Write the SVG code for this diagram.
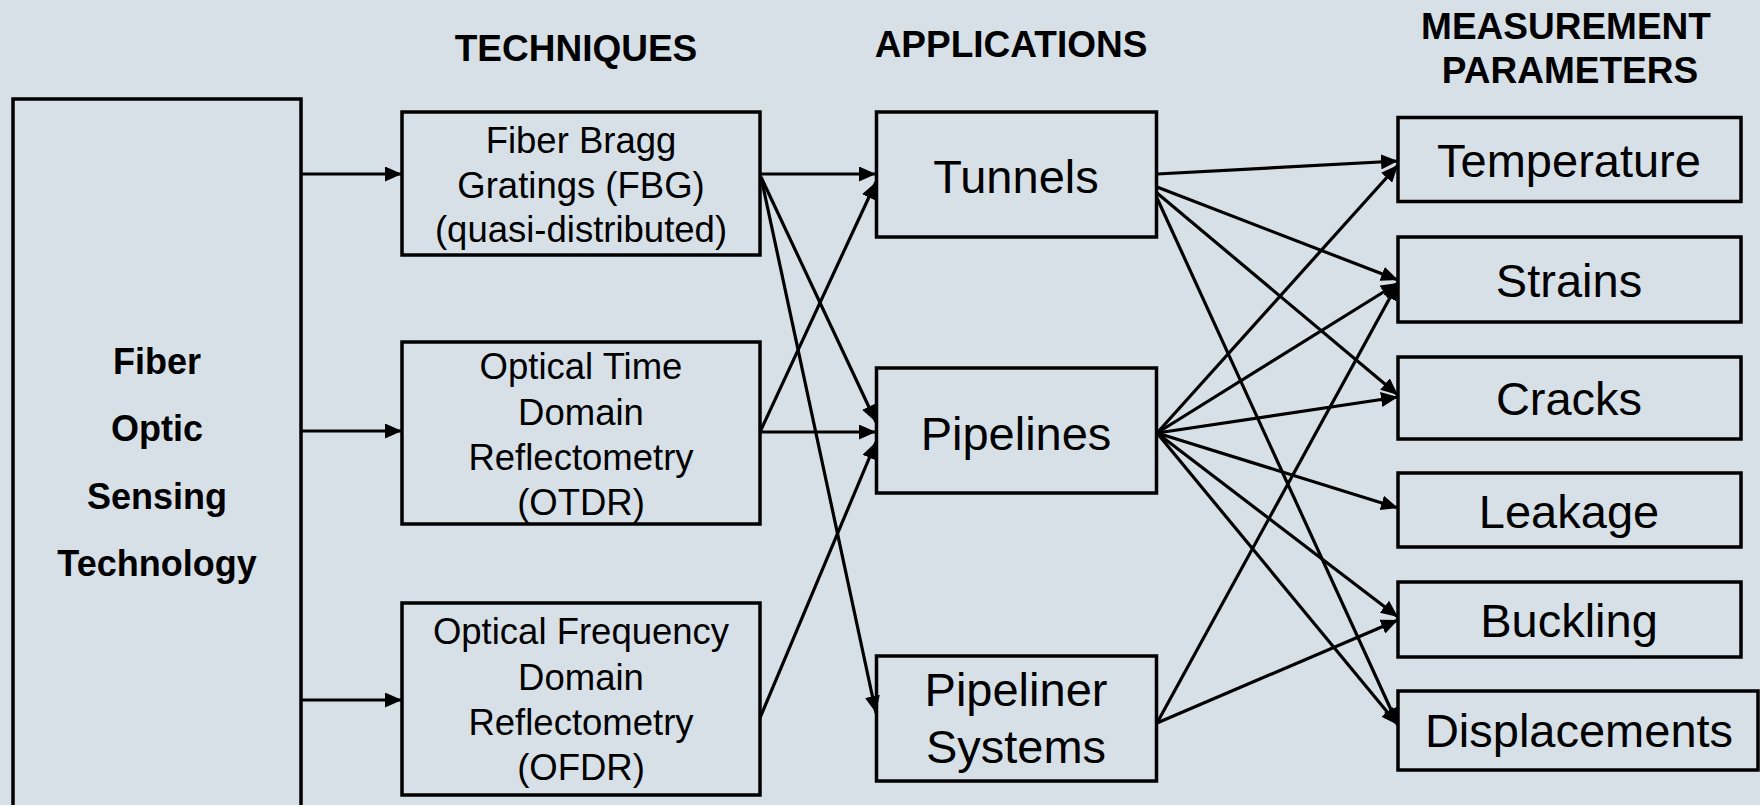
<svg xmlns="http://www.w3.org/2000/svg" width="1760" height="805" viewBox="0 0 1760 805">
  <style>
    .box { fill: none; stroke: #000; stroke-width: 3.5; }
    .hdr { font-family: "Liberation Sans", Arial, sans-serif; font-weight: bold; font-size: 37px; fill: #000; text-anchor: middle; }
    .src { font-family: "Liberation Sans", Arial, sans-serif; font-weight: bold; font-size: 36px; fill: #000; text-anchor: middle; }
    .tech { font-family: "Liberation Sans", Arial, sans-serif; font-size: 36.5px; fill: #000; text-anchor: middle; }
    .big { font-family: "Liberation Sans", Arial, sans-serif; font-size: 47px; fill: #000; text-anchor: middle; }
    .conn line { stroke: #000; stroke-width: 3.2; marker-end: url(#arrow); }
  </style>
  <defs>
    <marker id="arrow" markerUnits="userSpaceOnUse" markerWidth="17" markerHeight="15" refX="17" refY="7.5" orient="auto">
      <path d="M0,0 L17,7.5 L0,15 z" fill="#000"/>
    </marker>
  </defs>

  <rect width="1760" height="805" fill="#D7E0E7"/>

  <!-- column headers -->
  <text class="hdr" x="576" y="61">TECHNIQUES</text>
  <text class="hdr" x="1011" y="57">APPLICATIONS</text>
  <text class="hdr" x="1566" y="38.5">MEASUREMENT</text>
  <text class="hdr" x="1570" y="83">PARAMETERS</text>

  <!-- source technology -->
  <g id="fost">
    <rect class="box" x="13" y="99" width="288" height="730"/>
    <text class="src" x="157" y="373.5">Fiber</text>
    <text class="src" x="157" y="441">Optic</text>
    <text class="src" x="157" y="508.5">Sensing</text>
    <text class="src" x="157" y="576">Technology</text>
  </g>

  <!-- techniques -->
  <g id="fbg">
    <rect class="box" x="402" y="112" width="358" height="143"/>
    <text class="tech" x="581" y="153">Fiber Bragg</text>
    <text class="tech" x="581" y="197.5">Gratings (FBG)</text>
    <text class="tech" x="581" y="242">(quasi-distributed)</text>
  </g>
  <g id="otdr">
    <rect class="box" x="402" y="342" width="358" height="182"/>
    <text class="tech" x="581" y="379">Optical Time</text>
    <text class="tech" x="581" y="425">Domain</text>
    <text class="tech" x="581" y="470">Reflectometry</text>
    <text class="tech" x="581" y="515">(OTDR)</text>
  </g>
  <g id="ofdr">
    <rect class="box" x="402" y="603" width="358" height="192"/>
    <text class="tech" x="581" y="644">Optical Frequency</text>
    <text class="tech" x="581" y="689.5">Domain</text>
    <text class="tech" x="581" y="735">Reflectometry</text>
    <text class="tech" x="581" y="780">(OFDR)</text>
  </g>

  <!-- applications -->
  <g id="tunnels">
    <rect class="box" x="876.5" y="112" width="280" height="125"/>
    <text class="big" x="1016" y="193">Tunnels</text>
  </g>
  <g id="pipelines">
    <rect class="box" x="876.5" y="368" width="280" height="125"/>
    <text class="big" x="1016" y="449.5">Pipelines</text>
  </g>
  <g id="pipeliner">
    <rect class="box" x="876.5" y="656" width="280" height="125"/>
    <text class="big" x="1016" y="706">Pipeliner</text>
    <text class="big" x="1016" y="763">Systems</text>
  </g>

  <!-- measurement parameters -->
  <g id="temperature">
    <rect class="box" x="1398" y="117.5" width="343" height="84"/>
    <text class="big" x="1569" y="177">Temperature</text>
  </g>
  <g id="strains">
    <rect class="box" x="1398" y="237" width="343" height="85"/>
    <text class="big" x="1569" y="297">Strains</text>
  </g>
  <g id="cracks">
    <rect class="box" x="1398" y="357" width="343" height="82"/>
    <text class="big" x="1569" y="415">Cracks</text>
  </g>
  <g id="leakage">
    <rect class="box" x="1398" y="473" width="343" height="74"/>
    <text class="big" x="1569" y="528">Leakage</text>
  </g>
  <g id="buckling">
    <rect class="box" x="1398" y="582" width="343" height="75"/>
    <text class="big" x="1569" y="637">Buckling</text>
  </g>
  <g id="displacements">
    <rect class="box" x="1398" y="691" width="360" height="79"/>
    <text class="big" x="1579" y="747">Displacements</text>
  </g>

  <!-- connectors -->
  <g id="connectors" class="conn">
    <line x1="301" y1="174" x2="402" y2="174"/>
    <line x1="301" y1="431" x2="402" y2="431"/>
    <line x1="301" y1="700" x2="402" y2="700"/>

    <line x1="760" y1="174" x2="876" y2="174"/>
    <line x1="761" y1="177" x2="876" y2="422"/>
    <line x1="761" y1="177" x2="876" y2="713"/>
    <line x1="760" y1="432" x2="876" y2="182"/>
    <line x1="760" y1="432" x2="876" y2="432"/>
    <line x1="760" y1="718" x2="876" y2="442"/>

    <line x1="1157" y1="174" x2="1398" y2="161"/>
    <line x1="1157" y1="187" x2="1398" y2="280"/>
    <line x1="1157" y1="193" x2="1398" y2="395"/>
    <line x1="1157" y1="198" x2="1398" y2="725"/>

    <line x1="1157" y1="433" x2="1398" y2="165"/>
    <line x1="1157" y1="433" x2="1398" y2="283"/>
    <line x1="1157" y1="433" x2="1398" y2="397"/>
    <line x1="1157" y1="433" x2="1398" y2="508"/>
    <line x1="1157" y1="433" x2="1398" y2="617"/>
    <line x1="1157" y1="433" x2="1398" y2="725"/>

    <line x1="1157" y1="723" x2="1398" y2="283"/>
    <line x1="1157" y1="723" x2="1398" y2="620"/>
  </g>
</svg>
